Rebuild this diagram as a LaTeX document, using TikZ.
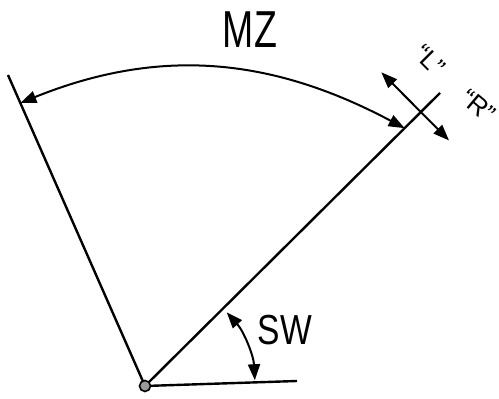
\documentclass[tikz,border=0pt]{standalone}
\usepackage{fontspec}
\setmainfont{Liberation Sans}
\usetikzlibrary{arrows.meta, calc}
\tikzset{
	tri/.tip={Triangle[length=16pt, width=12pt]},
	leg/.style={line width=2.4pt},
	dim/.style={line width=2pt, tri-tri},
	big/.style={inner sep=0pt, font=\fontsize{52}{52}\selectfont},
	small/.style={inner sep=0pt, font=\fontsize{26}{26}\selectfont}
}
\begin{document}
\begin{tikzpicture}[x=1pt, y=1pt]
		\useasboundingbox (0,0) rectangle (499,399);
		% Legs
		\coordinate (O) at (145,13);
		\coordinate (A) at (8,324);
		\coordinate (B) at (440,306);
		\coordinate (H) at (297,18);
		\draw[leg] (O) -- (A);
		\draw[leg] (O) -- (B);
		\draw[leg] (O) -- (H);
		\draw[line width=1.6pt, fill=gray!80] (O) circle (5.5);
		
		% MZ
		\coordinate (mzL) at ($(O)!0.91!(A)$);
		\coordinate (mzR) at ($(O)!0.88!(B)$);
		\draw[dim] (mzL) to[out=22, in=152] (mzR);
		\node[big, xscale=0.72] (mz) at (250,369) {MZ};
		
		% SW
		\coordinate (swA) at ($(O)+(42:110)$);
		\coordinate (swB) at ($(O)+(3:110)$);
		\draw[dim] (swA) arc[start angle=42, end angle=3, radius=110];
		\node[big, font=\fontsize{42}{42}\selectfont, xscale=0.8] (sw) at (285,69) {SW};
		
		% L / R
		\coordinate (X) at ($(O)!0.935!(B)$);
		\coordinate (lEnd) at ($(X)!56pt!90:(B)$);
		\coordinate (rEnd) at ($(X)!40pt!-90:(B)$);
		\draw[dim] (lEnd) -- (rEnd);
		\node[small, rotate=-45] (L) at (430,339) {“L”};
		\node[small, rotate=-40] (R) at (478,293) {“R”};
	\end{tikzpicture}
\end{document}
